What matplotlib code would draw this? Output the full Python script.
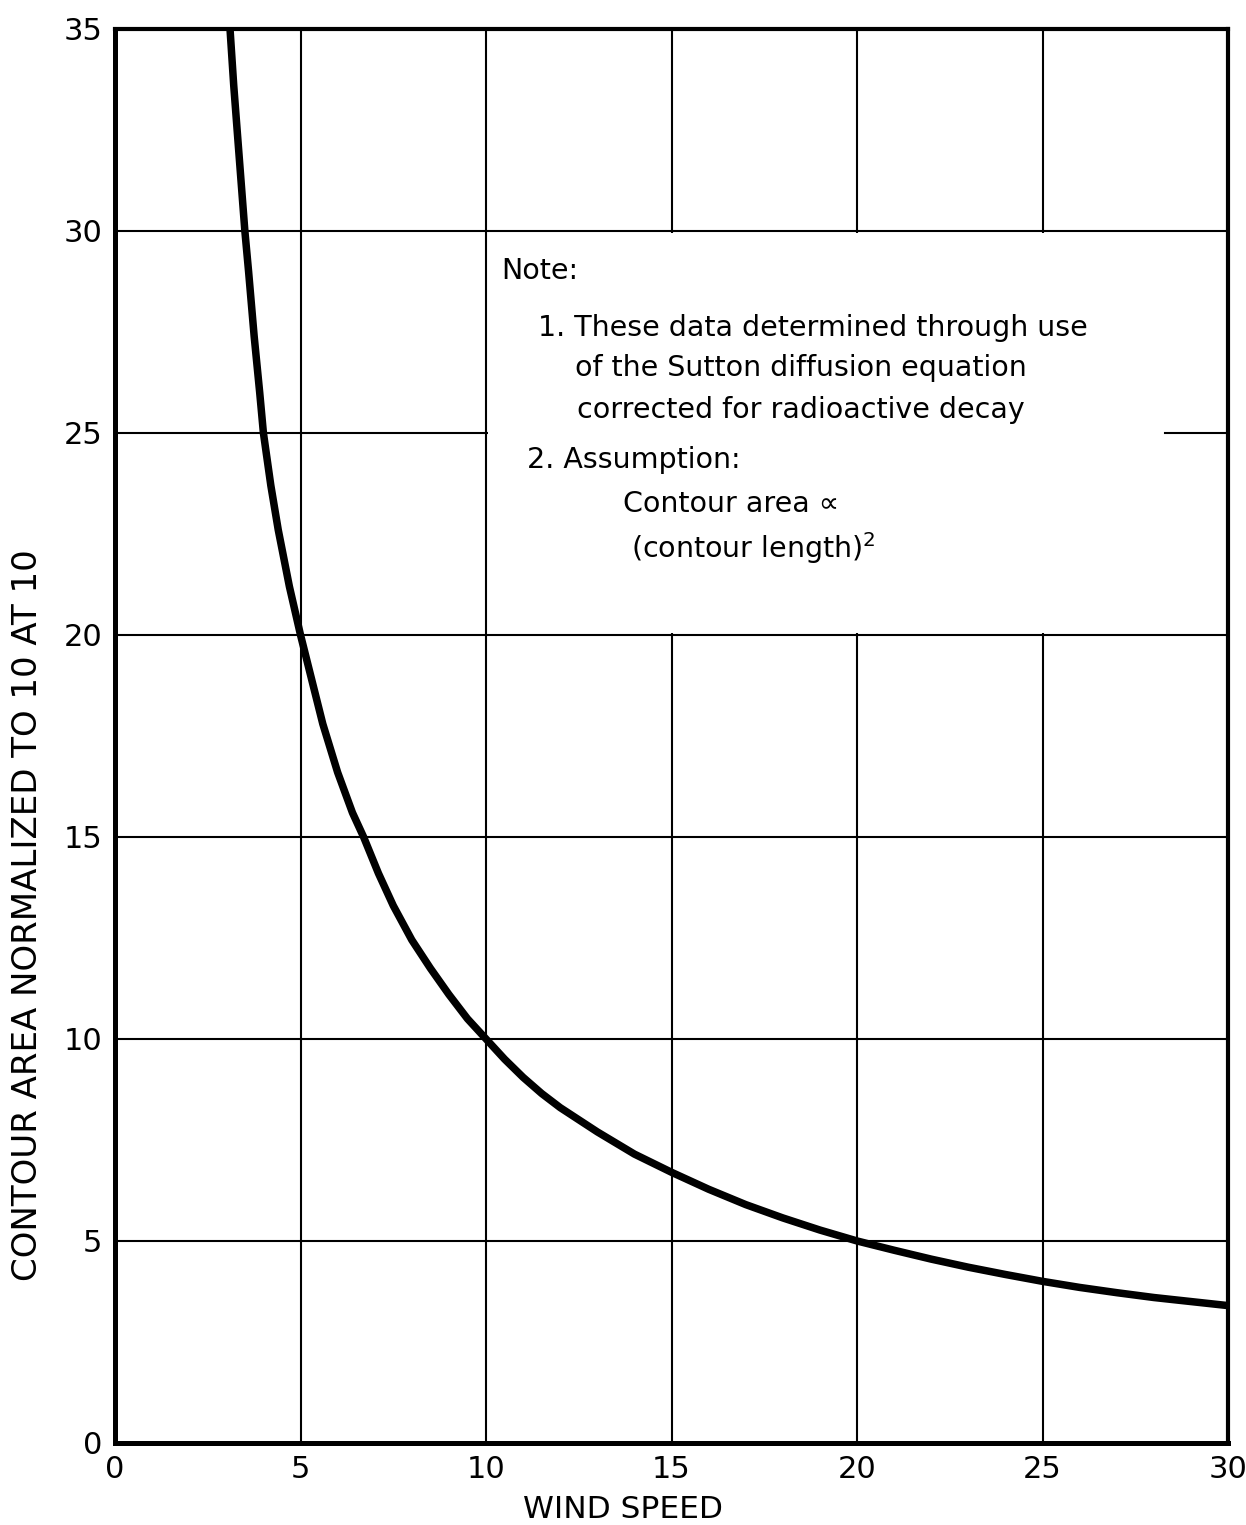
#!/usr/bin/env python3
"""Contour area vs wind speed, normalized to 10 at a wind speed of 10."""

import matplotlib
matplotlib.use("Agg")
import matplotlib.pyplot as plt
from matplotlib.patches import Rectangle

# values
WIND_SPEED = [3.1, 3.2, 3.3, 3.4, 3.5, 3.6, 3.75, 3.9, 4.0, 4.2, 4.4, 4.7,
              5.0, 5.3, 5.6, 6.0, 6.4, 6.7, 7.1, 7.5, 8.0, 8.5, 9.0, 9.5,
              10.0, 10.5, 11.0, 11.5, 12.0, 13.0, 14.0, 15.0, 16.0, 17.0,
              18.0, 19.0, 20.0, 21.0, 22.0, 23.0, 24.0, 25.0, 26.0, 27.0,
              28.0, 29.0, 30.0]
CONTOUR_AREA = [35.0, 33.6, 32.4, 31.2, 30.0, 29.0, 27.4, 26.0, 25.0, 23.7,
                22.6, 21.2, 20.0, 18.9, 17.8, 16.6, 15.6, 15.0, 14.1, 13.3,
                12.45, 11.75, 11.1, 10.5, 10.0, 9.5, 9.05, 8.65, 8.3, 7.7,
                7.15, 6.7, 6.28, 5.9, 5.57, 5.27, 5.0, 4.77, 4.55, 4.35,
                4.17, 4.0, 3.85, 3.72, 3.6, 3.5, 3.4]

X_TICKS = [0, 5, 10, 15, 20, 25, 30]
Y_TICKS = [0, 5, 10, 15, 20, 25, 30, 35]

NOTE_LINES = [
    (10.4, 29.0, "Note:"),
    (11.4, 27.6, "1. These data determined through use"),
    (12.4, 26.6, "of the Sutton diffusion equation"),
    (12.45, 25.58, "corrected for radioactive decay"),
    (11.1, 24.33, "2. Assumption:"),
    (13.7, 23.25, "Contour area \u221d"),
    (13.9, 22.15, "(contour length)$^2$"),
]

FONT = ["DejaVu Sans"]


def main() -> None:
    fig = plt.figure(figsize=(12.46, 15.25), dpi=100)
    ax = fig.add_axes([0.0923, 0.0538, 0.8933, 0.9272])

    ax.set_xlim(0, 30)
    ax.set_ylim(0, 35)
    ax.set_xticks(X_TICKS)
    ax.set_yticks(Y_TICKS)
    ax.set_xticklabels([str(v) for v in X_TICKS], fontsize=22, family=FONT)
    ax.set_yticklabels([str(v) for v in Y_TICKS], fontsize=22, family=FONT)
    ax.tick_params(length=0, pad=9)

    ax.grid(True, color="black", linewidth=1.5, zorder=0)
    ax.set_axisbelow(True)

    # blank panel for the note, leaving its framing grid lines visible
    eps = 0.06
    ax.add_patch(Rectangle((10 + eps, 20 + eps), 20 - 2 * eps, 10 - 2 * eps,
                           facecolor="white", edgecolor="none", zorder=1))
    ax.plot([28.3, 30], [25, 25], color="black", linewidth=1.5, zorder=1.5)

    ax.plot(WIND_SPEED, CONTOUR_AREA, color="black", linewidth=5.4,
            solid_capstyle="butt", solid_joinstyle="round", zorder=3)

    for x, y, line in NOTE_LINES:
        ax.text(x, y, line, fontsize=20.5, family=FONT, ha="left",
                va="center", zorder=4)

    for side in ("left", "bottom"):
        ax.spines[side].set_linewidth(3.6)
    for side in ("top", "right"):
        ax.spines[side].set_linewidth(3.0)

    ax.set_xlabel("WIND SPEED", fontsize=22.5, family=FONT, labelpad=10)
    ax.xaxis.set_label_coords(0.456, -0.037)
    ax.set_ylabel("CONTOUR AREA NORMALIZED TO 10 AT 10", fontsize=24.5,
                  family=FONT)
    ax.yaxis.set_label_coords(-0.064, 0.373)

    fig.savefig("out.png", dpi=100, facecolor="white")


if __name__ == "__main__":
    main()
